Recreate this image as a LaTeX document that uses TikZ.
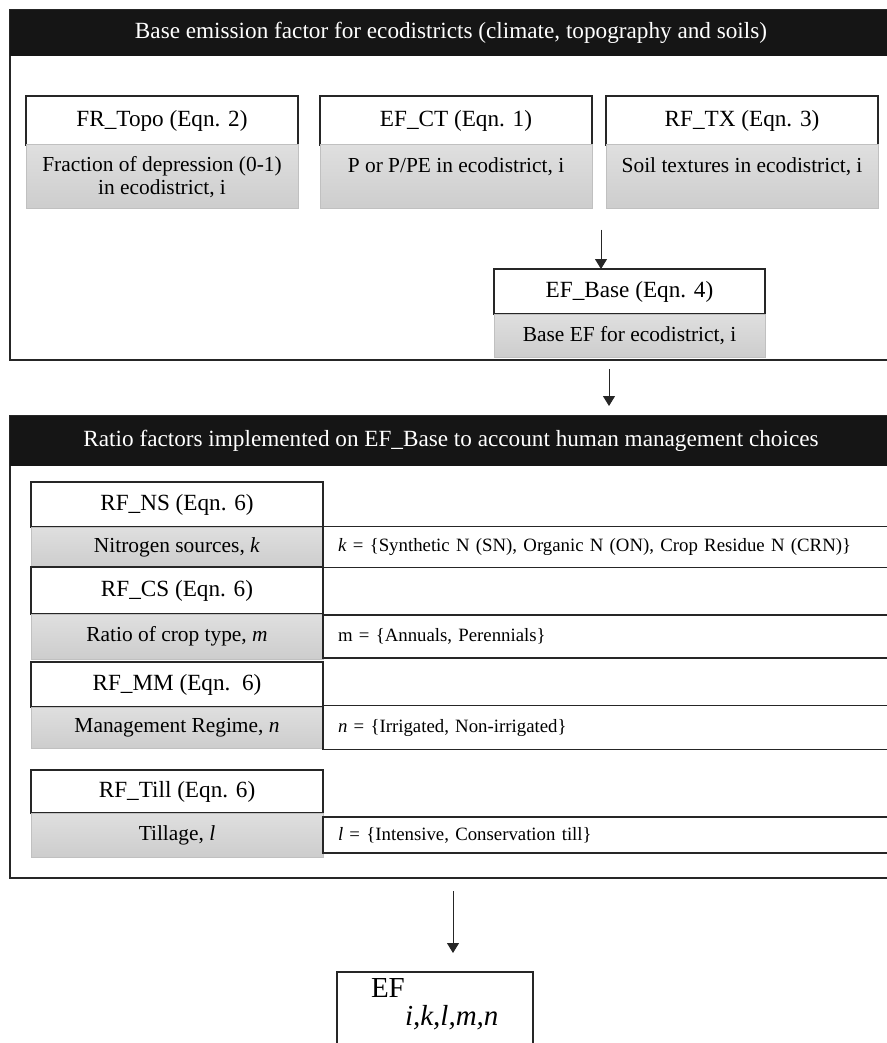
\documentclass[tikz,border=0pt]{standalone}
\usepackage{fontspec}
\setmainfont{Liberation Serif}
\usepackage{tikz}
\usetikzlibrary{arrows.meta,positioning}
\definecolor{hdrblack}{RGB}{21,21,21}
\definecolor{framegray}{RGB}{38,38,38}
\definecolor{shadetop}{RGB}{223,223,223}
\definecolor{shadebot}{RGB}{205,205,205}
\definecolor{shadeline}{RGB}{192,192,192}

\begin{document}
\begin{tikzpicture}[x=0.5pt, y=-0.5pt, node distance=0pt,
  every node/.style={inner sep=0pt, outer sep=0pt},
  hdr/.style={fill=hdrblack, text=white, anchor=north west, minimum width=441pt, font=\fontsize{11.6}{14}\selectfont},
  titlebox/.style={draw=framegray, line width=0.75pt, fill=white, font=\fontsize{11.6}{14}\selectfont},
  graybox/.style={draw=shadeline, line width=0.5pt, top color=shadetop, bottom color=shadebot, align=center, font=\fontsize{10.7}{11.5}\selectfont},
  valbox/.style={draw=framegray, line width=0.75pt, fill=white, inner xsep=7.5pt, text width=273pt, align=left, font=\fontsize{9.4}{11}\selectfont},
  toptitle/.style={titlebox, minimum width=136pt, minimum height=24.5pt},
  topgray/.style={graybox, minimum width=136pt, minimum height=32pt},
  rftitle/.style={titlebox, minimum width=146pt},
  rfgray/.style={graybox, minimum width=146pt},
  outerframe/.style={draw=framegray, line width=1pt},
  arr/.style={-{Triangle[length=5pt,width=6pt]}, line width=0.5pt, draw=framegray, fill=framegray}]
\useasboundingbox (0,0) rectangle (887,1043);
\clip (0,0) rectangle (887,1043);
\fill[white] (0,0) rectangle (887,1043);

% base emission factor
\draw[outerframe] (10,10) rectangle (900,360);
\node[hdr, minimum height=23pt] (hdr1) at (10,10) {Base emission factor for ecodistricts (climate, topography and soils)};
\node[toptitle, anchor=north west] (topo) at (26,96) {FR\_Topo (Eqn. 2)};
\node[toptitle, right=11pt of topo] (ct) {EF\_CT (Eqn. 1)};
\node[toptitle, right=7pt of ct] (tx) {RF\_TX (Eqn. 3)};
\node[topgray, below=of topo] (topoval) {Fraction of depression (0-1)\\in ecodistrict, i};
\node[topgray, below=of ct] (ctval) {P or P/PE in ecodistrict, i\\~};
\node[topgray, below=of tx] (txval) {Soil textures in ecodistrict, i\\~};
\node[titlebox, anchor=north west, minimum width=135.5pt, minimum height=22.5pt] (base) at (494,269) {EF\_Base (Eqn. 4)};
\node[graybox, below=of base, minimum width=135.5pt, minimum height=21.5pt] (baseval) {Base EF for ecodistrict, i};
\coordinate (a1) at (601,230);
\draw[arr] (a1) -- (a1 |- base.north);

% ratio factors
\coordinate (a2) at (609,369);
\draw[outerframe] (10,416) rectangle (900,878);
\node[hdr, minimum height=25pt] (hdr2) at (10,416) {Ratio factors implemented on EF\_Base to account human management choices};
\draw[arr, shorten >=5pt] (a2) -- (a2 |- hdr2.north);

\node[rftitle, anchor=north west, minimum height=22.5pt] (ns) at (31,482) {RF\_NS (Eqn. 6)};
\node[rfgray, below=of ns, minimum height=20pt] (nsval) {Nitrogen sources, \textit{k}};
\node[valbox, right=of nsval, minimum height=20.5pt] (nsset) {\textit{k} = \{Synthetic N (SN), Organic N (ON), Crop Residue N (CRN)\}};

\node[rftitle, below=of nsval, minimum height=23.5pt] (cs) {RF\_CS (Eqn. 6)};
\node[rfgray, below=of cs, minimum height=22.5pt] (csval) {Ratio of crop type, \textit{m}};
\node[valbox, right=of csval, minimum height=21.5pt] (csset) {m = \{Annuals, Perennials\}};

\node[rftitle, below=1.5pt of csval, minimum height=22.5pt] (mm) {RF\_MM (Eqn.\ \ 6)};
\node[rfgray, below=of mm, minimum height=20.5pt] (mmval) {Management Regime, \textit{n}};
\node[valbox, right=of mmval, minimum height=22pt] (mmset) {\textit{n} = \{Irrigated, Non-irrigated\}};

\node[rftitle, below=11pt of mmval, minimum height=21.5pt] (till) {RF\_Till (Eqn. 6)};
\node[rfgray, below=of till, minimum height=22pt] (tillval) {Tillage, \textit{l}};
\node[valbox, right=of tillval, minimum height=18pt] (tillset) {\textit{l} = \{Intensive, Conservation till\}};

% final factor
\node[draw=framegray, line width=0.75pt, anchor=north west, minimum width=98pt, minimum height=50pt] (ef) at (337,972) {};
\node[anchor=north west, align=left, font=\fontsize{14.5}{13.5}\selectfont] (eftext) at ([xshift=17pt, yshift=-3.5pt]ef.north west) {EF\\\hspace*{17pt}\textit{i,k,l,m,n}};
\coordinate (a3) at (453,891);
\draw[arr, shorten >=9.5pt] (a3) -- (a3 |- ef.north);
\end{tikzpicture}
\end{document}
